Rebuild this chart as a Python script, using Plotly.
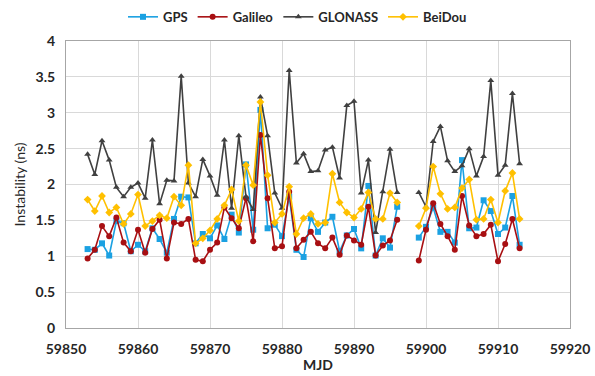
import plotly.graph_objects as go

mjd = list(range(59853, 59914))

gps = [1.10, 1.09, 1.18, 1.01, 1.49, 1.46, 1.07, 1.16, 1.07, 1.39, 1.24, 1.05,
       1.52, 1.83, 1.82, 1.18, 1.31, 1.25, 1.43, 1.24, 1.58, 1.33, 2.28, 1.37,
       3.04, 1.39, 1.44, 1.28, 1.83, 1.09, 0.99, 1.53, 1.34, 1.47, 1.55, 1.07,
       1.29, 1.38, 1.11, 1.98, 1.01, 1.25, 1.12, 1.69, None, None,
       1.26, 1.41, 1.68, 1.34, 1.34, 1.19, 2.34, 1.39, 1.40, 1.78, 1.63, 1.31,
       1.40, 1.84, 1.16]
galileo = [0.97, 1.09, 1.42, 1.28, 1.54, 1.19, 1.07, 1.37, 1.05, 1.38, 1.51, 0.97,
           1.47, 1.45, 1.52, 0.95, 0.93, 1.09, 1.19, 1.68, 1.53, 1.39, 1.81, 1.21,
           2.69, 1.81, 1.11, 1.14, 1.90, 1.11, 1.23, 1.34, 1.18, 1.11, 1.26, 1.02,
           1.29, 1.22, 1.16, 1.69, 1.01, 1.15, 1.22, 1.51, None, None,
           0.94, 1.37, 1.74, 1.45, 1.28, 1.09, 1.84, 1.43, 1.28, 1.31, 1.44, 0.93,
           1.17, 1.52, 1.11]
glonass = [2.42, 2.14, 2.61, 2.34, 1.96, 1.83, 1.96, 2.02, 1.81, 2.62, 1.73, 2.06,
           2.05, 3.51, 2.02, 1.83, 2.35, 2.12, 1.85, 2.62, 1.67, 2.68, 1.83, 1.65,
           3.22, 2.68, 1.88, 1.67, 3.59, 2.30, 2.43, 2.18, 2.19, 2.48, 2.52, 2.09,
           3.10, 3.16, 1.88, 2.34, 1.33, 1.90, 2.49, 1.89, None, None,
           1.89, 1.69, 2.60, 2.81, 2.33, 2.18, 2.26, 2.50, 2.12, 2.39, 3.45, 2.13,
           2.27, 3.27, 2.29]
beidou = [1.79, 1.63, 1.84, 1.61, 1.68, 1.45, 1.59, 1.86, 1.42, 1.49, 1.57, 1.53,
          1.83, 1.71, 2.27, 1.18, 1.25, 1.36, 1.52, 1.71, 1.93, 1.49, 2.27, 1.99,
          3.15, 2.13, 1.47, 1.59, 1.97, 1.31, 1.53, 1.59, 1.45, 1.47, 2.15, 1.75,
          1.61, 1.54, 1.66, 1.89, 1.52, 1.52, 1.88, 1.75, None, None,
          1.42, 1.67, 2.25, 1.87, 1.66, 1.68, 1.95, 2.07, 1.51, 1.52, 1.79, 1.47,
          1.91, 2.16, 1.52]

series = [
    ("GPS", gps, "#1BA1E2", "square"),
    ("Galileo", galileo, "#A80F12", "circle"),
    ("GLONASS", glonass, "#404040", "triangle-up"),
    ("BeiDou", beidou, "#FFC000", "diamond"),
]

FONT = "Lato"
TXT = "#262626"

fig = go.Figure()
for name, vals, color, sym in series:
    fig.add_trace(go.Scatter(
        x=mjd, y=vals, name=name, mode="lines+markers",
        line=dict(color=color, width=1.6),
        marker=dict(symbol=sym, size=6, color=color),
        connectgaps=False,
    ))

fig.update_layout(
    width=595, height=376,
    margin=dict(l=66, r=25, t=41, b=48, autoexpand=False),
    paper_bgcolor="white", plot_bgcolor="white",
    font=dict(family=FONT, size=13, color=TXT),
    showlegend=True,
    legend=dict(
        orientation="h", xref="container", yref="container",
        x=0.5, xanchor="center", y=0.995, yanchor="top",
        font=dict(family=FONT, size=13, color=TXT, weight="bold"),
        itemwidth=30, tracegroupgap=0, bgcolor="rgba(0,0,0,0)",
    ),
    xaxis=dict(
        range=[59850, 59920], dtick=10, tick0=59850, tickformat="d",
        showgrid=True, gridcolor="#D9D9D9", gridwidth=1,
        showline=True, linecolor="#A6A6A6", linewidth=1.2, mirror=True,
        zeroline=False, ticks="outside", ticklen=8, tickcolor="rgba(0,0,0,0)",
        automargin=False,
        tickfont=dict(family=FONT, size=14, color=TXT, weight="bold"),
        title=dict(text="MJD", font=dict(family=FONT, size=14, color=TXT, weight="bold"), standoff=4),
    ),
    yaxis=dict(
        range=[0, 4], dtick=0.5, tick0=0,
        showgrid=True, gridcolor="#D9D9D9", gridwidth=1,
        showline=True, linecolor="#A6A6A6", linewidth=1.2, mirror=True,
        zeroline=False, ticks="outside", ticklen=7, tickcolor="rgba(0,0,0,0)",
        automargin=False,
        tickfont=dict(family=FONT, size=14, color=TXT, weight="bold"),
        title=dict(text="Instability (ns)", font=dict(family=FONT, size=14, color=TXT), standoff=6),
    ),
)

fig.write_html("out.html")
